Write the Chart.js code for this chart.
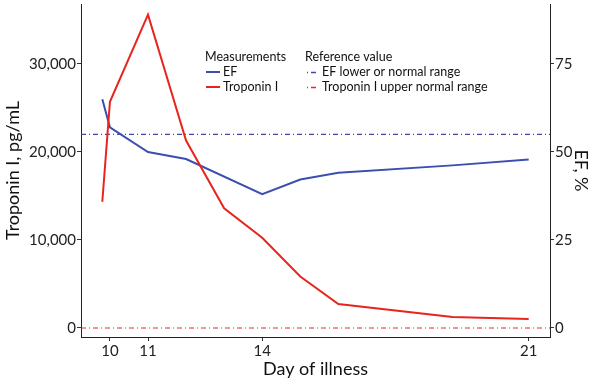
<!DOCTYPE html>
<html>
  <head>
    <script src="https://cdn.jsdelivr.net/npm/chart.js@4"></script>
    <style>
      body { margin: 0; background: #fff; }
    </style>
  </head>

  <body>
    <canvas id="canvas" width="600" height="382"></canvas>
    <script>
      // values
      const efDays = [9.8, 10, 11, 12, 14, 15, 16, 19, 21];
      const efValues = [65, 57, 50, 48, 38, 42.2, 44.1, 46.2, 47.9];
      const tropDays = [9.8, 10, 11, 12, 13, 14, 15, 16, 19, 21];
      const tropValues = [14350, 25700, 35600, 21300, 13600, 10250, 5850, 2730, 1250, 1020];
      const dayTicks = [10, 11, 14, 21];
      const tropTicks = [0, 10000, 20000, 30000];
      const efTicks = [0, 25, 50, 75];
      const efLowerNormal = 55;
      const tropUpperNormal = 0;

      const xMin = 9.24, xMax = 21.56;
      const tropMin = -1023, tropMax = 36818;
      const ratio = 400; // EF axis = troponin / 400

      const blue = '#3b4fb0';
      const red = '#e8241f';
      const refBlue = '#4646a8';
      const refRed = '#e62a22';
      const dashDot = [5, 3, 1, 3];
      const FONT = 'Lato, "Open Sans", sans-serif';

      const pts = (xs, ys) => xs.map((x, i) => ({ x: x, y: ys[i] }));
      const hline = (v) => [{ x: xMin, y: v }, { x: xMax, y: v }];

      const legendPlugin = {
        id: 'ggLegend',
        afterDraw(chart) {
          const ctx = chart.ctx;
          ctx.save();
          ctx.textBaseline = 'middle';
          ctx.fillStyle = '#111';
          ctx.font = '12.5px ' + FONT;
          ctx.fillText('Measurements', 205, 57);
          ctx.fillText('Reference value', 305, 57);
          ctx.fillText('EF', 223, 72);
          ctx.fillText('Troponin I', 223, 87);
          ctx.fillText('EF lower or normal range', 322, 72);
          ctx.fillText('Troponin I upper normal range', 322, 87);

          ctx.lineWidth = 2;
          ctx.strokeStyle = blue;
          ctx.beginPath(); ctx.moveTo(206, 72); ctx.lineTo(220, 72); ctx.stroke();
          ctx.strokeStyle = red;
          ctx.beginPath(); ctx.moveTo(206, 87); ctx.lineTo(220, 87); ctx.stroke();

          ctx.lineWidth = 1.3;
          ctx.setLineDash([1, 3, 5, 3]);
          ctx.strokeStyle = refBlue;
          ctx.beginPath(); ctx.moveTo(307, 72.5); ctx.lineTo(319, 72.5); ctx.stroke();
          ctx.strokeStyle = refRed;
          ctx.beginPath(); ctx.moveTo(307, 87.5); ctx.lineTo(319, 87.5); ctx.stroke();
          ctx.restore();
        },
      };

      const noPad = (w, h) => (s) => {
        if (w !== undefined) s.width = w;
        if (h !== undefined) s.height = h;
        s.paddingTop = 0; s.paddingBottom = 0; s.paddingLeft = 0; s.paddingRight = 0;
      };

      const axisGrid = { drawOnChartArea: false, drawTicks: true, tickLength: 4, tickColor: '#333', color: '#333' };
      const axisBorder = { display: true, color: '#222', width: 1 };
      const tickFont = { family: FONT, size: 15 };
      const titleFont = { family: FONT, size: 18 };

      new Chart(document.getElementById('canvas').getContext('2d'), {
        type: 'line',
        data: {
          datasets: [
            { label: 'Troponin I', data: pts(tropDays, tropValues), yAxisID: 'y', borderColor: red, borderWidth: 2 },
            { label: 'EF', data: pts(efDays, efValues), yAxisID: 'y1', borderColor: blue, borderWidth: 2 },
            { label: 'EF lower or normal range', data: hline(efLowerNormal), yAxisID: 'y1', borderColor: refBlue, borderWidth: 1.2, borderDash: dashDot },
            { label: 'Troponin I upper normal range', data: hline(tropUpperNormal), yAxisID: 'y', borderColor: refRed, borderWidth: 1.2, borderDash: dashDot },
          ],
        },
        options: {
          responsive: false,
          animation: false,
          layout: { padding: { top: 4, left: 0, right: 0, bottom: 0 } },
          elements: { point: { radius: 0 }, line: { tension: 0, fill: false } },
          plugins: { legend: { display: false }, tooltip: { enabled: false } },
          scales: {
            x: {
              type: 'linear',
              position: 'bottom',
              min: xMin,
              max: xMax,
              grid: axisGrid,
              border: axisBorder,
              ticks: { font: tickFont, color: '#222', padding: 1, autoSkip: false, maxRotation: 0 },
              afterBuildTicks: (s) => { s.ticks = dayTicks.map((v) => ({ value: v })); },
              title: { display: true, text: 'Day of illness', font: titleFont, color: '#111', padding: { top: 0, bottom: 2 } },
              afterFit: noPad(undefined, 45),
            },
            y: {
              type: 'linear',
              position: 'left',
              min: tropMin,
              max: tropMax,
              grid: axisGrid,
              border: axisBorder,
              ticks: { font: tickFont, color: '#222', padding: 1, callback: (v) => v.toLocaleString('en-US') },
              afterBuildTicks: (s) => { s.ticks = tropTicks.map((v) => ({ value: v })); },
              title: { display: true, text: 'Troponin I, pg/mL', font: titleFont, color: '#111', padding: { top: 2, bottom: 0 } },
              afterFit: noPad(81),
            },
            y1: {
              type: 'linear',
              position: 'right',
              min: tropMin / ratio,
              max: tropMax / ratio,
              grid: axisGrid,
              border: axisBorder,
              ticks: { font: tickFont, color: '#222', padding: 1 },
              afterBuildTicks: (s) => { s.ticks = efTicks.map((v) => ({ value: v })); },
              title: { display: true, text: 'EF, %', font: titleFont, color: '#111', padding: { top: 8, bottom: 0 } },
              afterFit: noPad(50),
            },
          },
        },
        plugins: [legendPlugin],
      });
    </script>
  </body>
</html>
